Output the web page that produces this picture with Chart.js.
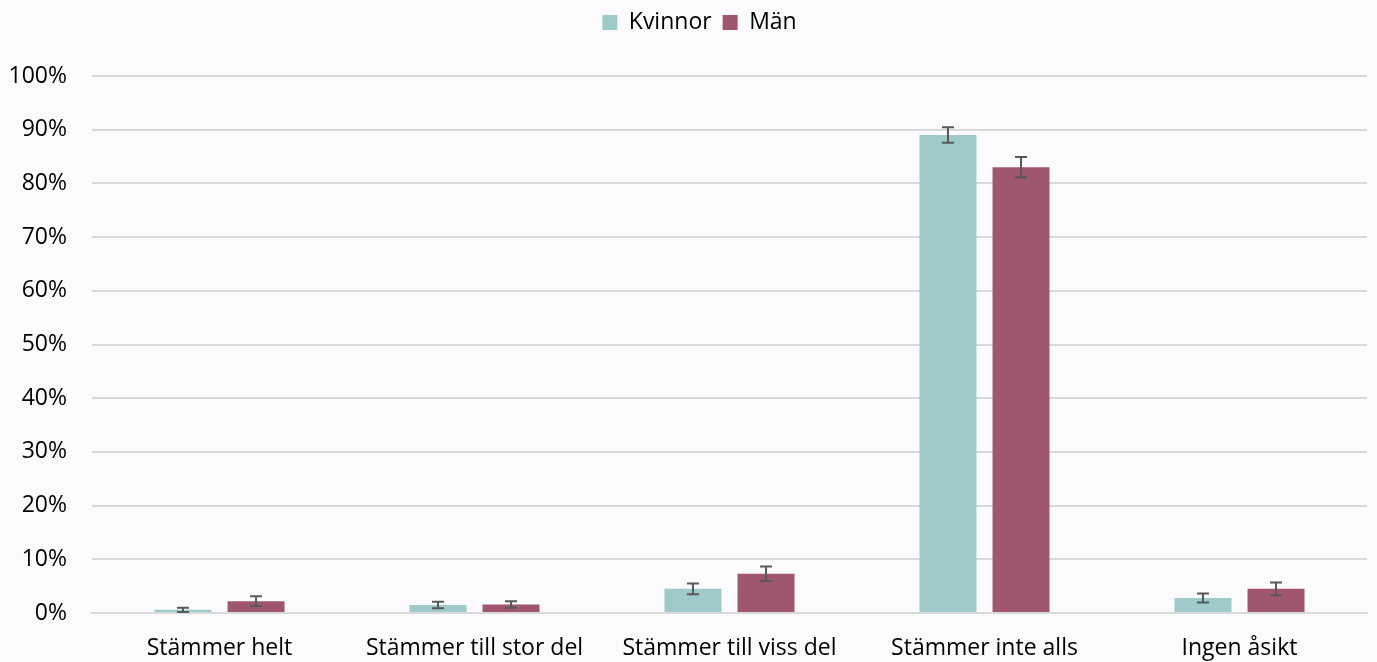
<!DOCTYPE html>
<html>
<head>
<meta charset="utf-8">
<script src="https://cdn.jsdelivr.net/npm/chart.js@4"></script>
<style>
  html, body { margin: 0; padding: 0; background: #fbfbfe; }
  #wrap { width: 1377px; height: 662px; position: relative; }
</style>
</head>
<body>
<div id="wrap"><canvas id="chart"></canvas></div>
<script>
const categories = ['Stämmer helt', 'Stämmer till stor del', 'Stämmer till viss del', 'Stämmer inte alls', 'Ingen åsikt'];
const kvinnor = [0.6, 1.5, 4.5, 89.0, 2.8];
const kvinnorErr = [0.4, 0.6, 1.0, 1.45, 0.85];
const man = [2.2, 1.6, 7.3, 83.0, 4.5];
const manErr = [0.9, 0.6, 1.35, 1.9, 1.2];
const yTicks = [0, 10, 20, 30, 40, 50, 60, 70, 80, 90, 100];

const errors = [kvinnorErr, manErr];

// draws the confidence intervals on top of the bars
const errorBars = {
    id: 'errorBars',
    afterDatasetsDraw(chart) {
        const ctx = chart.ctx;
        const y = chart.scales.y;
        ctx.save();
        ctx.strokeStyle = '#595959';
        ctx.lineWidth = 2;
        chart.data.datasets.forEach((ds, di) => {
            const meta = chart.getDatasetMeta(di);
            meta.data.forEach((bar, i) => {
                const v = ds.data[i];
                const e = errors[di][i];
                const top = y.getPixelForValue(v + e);
                const bot = y.getPixelForValue(v - e);
                const x = bar.x;
                ctx.beginPath();
                ctx.moveTo(x, top); ctx.lineTo(x, bot);
                ctx.moveTo(x - 6, top); ctx.lineTo(x + 6, top);
                ctx.moveTo(x - 6, bot); ctx.lineTo(x + 6, bot);
                ctx.stroke();
            });
        });
        ctx.restore();
    }
};

// extra room below the legend, and nudge it a bit right
const legendSpace = {
    id: 'legendSpace',
    beforeInit(chart) {
        const fit = chart.legend.fit;
        chart.legend.fit = function () {
            fit.bind(chart.legend)();
            this.height += 32;
        };
    },
    afterLayout(chart) {
        chart.legend.left += 16;
        chart.legend.right += 16;
    }
};

const ctx = document.getElementById('chart').getContext('2d');
new Chart(ctx, {
    type: 'bar',
    data: {
        labels: categories,
        datasets: [
            { label: 'Kvinnor', data: kvinnor, backgroundColor: '#9fcaca' },
            { label: 'Män', data: man, backgroundColor: '#a0566e' }
        ]
    },
    plugins: [errorBars, legendSpace],
    options: {
        responsive: true,
        maintainAspectRatio: false,
        animation: false,
        layout: { padding: { left: 0, right: 10, top: 0, bottom: 0 } },
        datasets: { bar: { categoryPercentage: 0.573, barPercentage: 0.78 } },
        plugins: {
            legend: {
                position: 'top',
                labels: {
                    font: { family: 'Open Sans', size: 23 },
                    color: '#000',
                    boxWidth: 15,
                    boxHeight: 15,
                    padding: 11
                }
            },
            tooltip: { enabled: false }
        },
        scales: {
            x: {
                afterFit(scale) { scale.height = 49; },
                grid: { display: false },
                border: { color: '#d9d9d9', width: 2 },
                ticks: { font: { family: 'Open Sans', size: 23 }, color: '#000', padding: 14, maxRotation: 0 }
            },
            y: {
                min: 0,
                max: 100,
                afterFit(scale) { scale.width = 92; },
                afterBuildTicks(scale) { scale.ticks = yTicks.map(v => ({ value: v })); },
                grid: { color: '#d9d9d9', lineWidth: 2, drawTicks: false },
                border: { display: false },
                ticks: {
                    font: { family: 'Open Sans', size: 23 },
                    color: '#000',
                    padding: 25,
                    callback: v => v + '%'
                }
            }
        }
    }
});
</script>
</body>
</html>
